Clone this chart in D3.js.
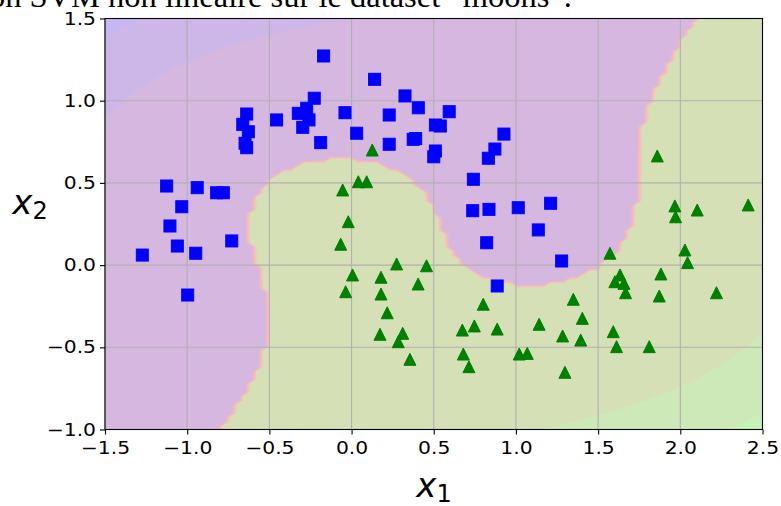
<!DOCTYPE html>
<html>
<head>
<meta charset="utf-8">
<script src="https://cdn.jsdelivr.net/npm/d3@7"></script>
<style>
  body { margin: 0; background: #fff; }
  svg { display: block; }
</style>
</head>
<body>
<svg width="781" height="506"></svg>
<script>
// class 0 (blue squares)
var blueX = [-0.17, 0.14, 0.325, 0.406, 0.51, 0.54, 0.51, 0.50, 0.229, 0.229, 0.375, 0.39, -0.04, 0.031, -0.188,
             -0.227, -0.324, -0.273, -0.259, -0.297, -0.456, -0.638, -0.662, -0.628, -0.648, -0.638, -1.125, -0.939,
             -0.821, -0.78, -1.033, -1.105, -1.06, -0.948, -1.273, -0.729, -0.997, 0.594, 0.927, 0.872, 0.832, 0.741,
             0.737, 0.836, 1.014, 1.211, 1.136, 0.822, 1.278, 0.886];
var blueY = [1.272, 1.13, 1.029, 0.957, 0.852, 0.846, 0.694, 0.659, 0.913, 0.735, 0.765, 0.77, 0.927, 0.802, 0.745,
             1.015, 0.923, 0.954, 0.883, 0.838, 0.883, 0.919, 0.856, 0.811, 0.741, 0.714, 0.481, 0.471,
             0.44, 0.44, 0.355, 0.238, 0.116, 0.072, 0.061, 0.147, -0.182, 0.933, 0.797, 0.706, 0.65, 0.522,
             0.331, 0.339, 0.349, 0.376, 0.214, 0.136, 0.025, -0.127];
// class 1 (green triangles)
var greenX = [0.126, -0.054, 0.041, 0.092, -0.02, -0.066, 0.006, -0.036, 0.179, 0.179, 0.274, 0.456, 0.405, 0.217,
              0.173, 0.311, 0.284, 0.355, 1.86, 1.967, 1.971, 2.103, 2.413, 2.028, 2.044, 1.572, 1.633, 1.602, 1.657,
              1.667, 1.882, 1.872, 2.22, 0.801, 0.674, 0.747, 0.886, 0.68, 0.714, 1.02, 1.069, 1.141, 1.284, 1.349,
              1.404, 1.394, 1.298, 1.592, 1.612, 1.811];
var greenY = [0.70, 0.457, 0.507, 0.507, 0.264, 0.127, -0.06, -0.162, -0.074, -0.176, 0.007, -0.004, -0.115, -0.29,
              -0.421, -0.415, -0.466, -0.573, 0.664, 0.36, 0.294, 0.335, 0.366, 0.092, 0.015, 0.072, -0.06, -0.101, -0.111,
              -0.168, -0.054, -0.188, -0.168, -0.238, -0.395, -0.37, -0.389, -0.541, -0.618, -0.541, -0.537, -0.36, -0.431, -0.208,
              -0.324, -0.456, -0.652, -0.405, -0.496, -0.496];

var xTicks = [-1.5, -1.0, -0.5, 0.0, 0.5, 1.0, 1.5, 2.0, 2.5];
var yTicks = [-1.0, -0.5, 0.0, 0.5, 1.0, 1.5];
var axesBox = [-1.5, 2.5, -1, 1.5];
var caption = "Classification SVM non linéaire sur le dataset \u201Cmoons\u201D.";

var svg = d3.select("svg");
var x = d3.scaleLinear().domain([axesBox[0], axesBox[1]]).range([105, 762.5]);
var y = d3.scaleLinear().domain([axesBox[2], axesBox[3]]).range([429.5, 18.5]);

// ---- polynomial features (degree 3) + scaler + linear SVM (hinge, C=10) ----
function poly(a, b) {
    return [a, b, a * a, a * b, b * b, a * a * a, a * a * b, a * b * b, b * b * b];
}
var pts = [], lab = [];
blueX.forEach(function(v, i) { pts.push(poly(v, blueY[i])); lab.push(-1); });
greenX.forEach(function(v, i) { pts.push(poly(v, greenY[i])); lab.push(1); });
var nf = pts[0].length;
var mean = d3.range(nf).map(function(k) { return d3.mean(pts, function(p) { return p[k]; }); });
var sd = d3.range(nf).map(function(k) {
    return Math.sqrt(d3.mean(pts, function(p) { return (p[k] - mean[k]) * (p[k] - mean[k]); }));
});
function scaled(p) {
    var s = p.map(function(v, k) { return (v - mean[k]) / sd[k]; });
    s.push(1); // intercept column
    return s;
}
var Xs = pts.map(scaled);
var C = 10, w = new Array(nf + 1).fill(0), alpha = new Array(Xs.length).fill(0);
var QD = Xs.map(function(r) { return d3.sum(r, function(v) { return v * v; }); });
function dot(a, b) { var s = 0; for (var k = 0; k < a.length; k++) s += a[k] * b[k]; return s; }
// dual coordinate descent, stopped at 1000 passes like liblinear's default max_iter
for (var it = 0; it < 1000; it++) {
    for (var i = 0; i < Xs.length; i++) {
        var G = lab[i] * dot(w, Xs[i]) - 1, PG = G;
        if (alpha[i] === 0) PG = Math.min(G, 0);
        else if (alpha[i] === C) PG = Math.max(G, 0);
        if (Math.abs(PG) > 1e-12) {
            var old = alpha[i];
            alpha[i] = Math.min(Math.max(alpha[i] - G / QD[i], 0), C);
            var d = (alpha[i] - old) * lab[i];
            for (var k = 0; k < w.length; k++) w[k] += d * Xs[i][k];
        }
    }
}
function decision(a, b) { return dot(w, scaled(poly(a, b))); }

// ---- grid like np.meshgrid(linspace(...,100)) ----
var n = 100;
var gx = d3.range(n).map(function(i) { return axesBox[0] + i * (axesBox[1] - axesBox[0]) / (n - 1); });
var gy = d3.range(n).map(function(j) { return axesBox[2] + j * (axesBox[3] - axesBox[2]) / (n - 1); });
var dec = new Array(n * n), pred = new Array(n * n);
for (var j = 0; j < n; j++) for (var i = 0; i < n; i++) {
    var v = decision(gx[i], gy[j]);
    dec[i + j * n] = v;
    pred[i + j * n] = v > 0 ? 1 : 0;
}

function brg(t) {
    var r = t < 0.5 ? 2 * t : 2 - 2 * t,
        g = t < 0.5 ? 0 : 2 * t - 1,
        b = t < 0.5 ? 1 - 2 * t : 0;
    return d3.rgb(r * 255, g * 255, b * 255) + "";
}
// MaxNLocator-like levels
function levels(lo, hi, nbins) {
    var raw = (hi - lo) / nbins, scale = Math.pow(10, Math.floor(Math.log10(raw)));
    var steps = [1, 2, 2.5, 5, 10], step = 10 * scale;
    for (var s = 0; s < steps.length; s++) if (steps[s] * scale >= raw - 1e-12) { step = steps[s] * scale; break; }
    var l0 = Math.floor(lo / step + 1e-9) * step, out = [];
    for (var v = l0; v < hi + step - 1e-9; v += step) out.push(+v.toFixed(10));
    return out;
}

var proj = d3.geoTransform({
    point: function(px, py) {
        var dx = axesBox[0] + (px - 0.5) * (axesBox[1] - axesBox[0]) / (n - 1);
        var dy = axesBox[2] + (py - 0.5) * (axesBox[3] - axesBox[2]) / (n - 1);
        this.stream.point(x(dx), y(dy));
    }
});
var path = d3.geoPath(proj);

svg.append("defs").append("clipPath").attr("id", "clip")
    .append("rect").attr("x", 105).attr("y", 18.5).attr("width", 657.5).attr("height", 411);

function contourf(values, opacity) {
    var lv = levels(d3.min(values), d3.max(values), 8);
    var lo = lv[0], hi = lv[lv.length - 1];
    var th = lv.slice(0, -1);
    var polys = d3.contours().size([n, n]).thresholds(th)(values);
    var g = svg.append("g").attr("clip-path", "url(#clip)").attr("opacity", opacity);
    g.selectAll("path").data(polys).enter().append("path")
        .attr("d", path)
        .attr("fill", function(p, k) {
            var mid = k < lv.length - 1 ? (lv[k] + lv[k + 1]) / 2 : lv[k];
            return brg((mid - lo) / (hi - lo));
        });
}
contourf(pred, 0.2);
contourf(dec, 0.1);

// grid
svg.append("g").selectAll("line").data(xTicks).enter().append("line")
    .attr("x1", function(d) { return x(d); }).attr("x2", function(d) { return x(d); })
    .attr("y1", 18.5).attr("y2", 429.5)
    .attr("stroke", "#b0b0b0").attr("stroke-width", 1.1);
svg.append("g").selectAll("line").data(yTicks).enter().append("line")
    .attr("y1", function(d) { return y(d); }).attr("y2", function(d) { return y(d); })
    .attr("x1", 105).attr("x2", 762.5)
    .attr("stroke", "#b0b0b0").attr("stroke-width", 1.1);

// points
var ms = 12;
var pg = svg.append("g").attr("clip-path", "url(#clip)");
pg.selectAll("rect.sq").data(blueX).enter().append("rect").attr("class", "sq")
    .attr("x", function(d) { return x(d) - ms / 2; })
    .attr("y", function(d, i) { return y(blueY[i]) - ms / 2; })
    .attr("width", ms).attr("height", ms)
    .attr("fill", "#0000ff").attr("stroke", "#0000ff").attr("stroke-width", 1);
pg.selectAll("path.tri").data(greenX).enter().append("path").attr("class", "tri")
    .attr("transform", function(d, i) { return "translate(" + x(d) + "," + y(greenY[i]) + ")"; })
    .attr("d", "M0," + (-ms / 2) + "L" + (ms / 2) + "," + (ms / 2) + "L" + (-ms / 2) + "," + (ms / 2) + "Z")
    .attr("fill", "#008000").attr("stroke", "#008000").attr("stroke-width", 1);

// axes
var xAxis = svg.append("g").attr("transform", "translate(0,429.5)")
    .call(d3.axisBottom(x).tickValues(xTicks).tickSize(5).tickPadding(4).tickFormat(d3.format(".1f")));
var yAxis = svg.append("g").attr("transform", "translate(105,0)")
    .call(d3.axisLeft(y).tickValues(yTicks).tickSize(5).tickPadding(4).tickFormat(d3.format(".1f")));
[xAxis, yAxis].forEach(function(a) {
    a.select(".domain").remove();
    a.selectAll("line").attr("stroke", "#000").attr("stroke-width", 1.1);
    a.selectAll("text").attr("font-family", "DejaVu Sans").attr("font-size", 17.5).attr("fill", "#000");
});
xAxis.selectAll("text").attr("dy", "0.9em");
xAxis.selectAll(".tick text").attr("transform", "scale(1.16,1)").attr("x", 0);
yAxis.selectAll(".tick text").attr("transform", "translate(-9,0) scale(1.16,1)").attr("x", 0);

svg.append("rect").attr("x", 105).attr("y", 18.5).attr("width", 657.5).attr("height", 411)
    .attr("fill", "none").attr("stroke", "#000").attr("stroke-width", 1.1);

// axis labels (mathtext style)
var xl = svg.append("text").attr("x", 434).attr("y", 497).attr("text-anchor", "middle")
    .attr("font-family", "DejaVu Sans").attr("font-size", 34);
xl.append("tspan").attr("font-style", "italic").text("x");
xl.append("tspan").attr("font-size", 24).attr("dy", 5).text("1");
var yl = svg.append("text").attr("x", 30).attr("y", 214).attr("text-anchor", "middle")
    .attr("font-family", "DejaVu Sans").attr("font-size", 34);
yl.append("tspan").attr("font-style", "italic").text("x");
yl.append("tspan").attr("font-size", 24).attr("dy", 5).text("2");

// caption cut off at the top of the picture
svg.append("text").attr("x", 572).attr("y", 7).attr("text-anchor", "end")
    .attr("font-family", "Liberation Serif").attr("font-size", 32.5).attr("fill", "#000")
    .text(caption);
</script>
</body>
</html>
